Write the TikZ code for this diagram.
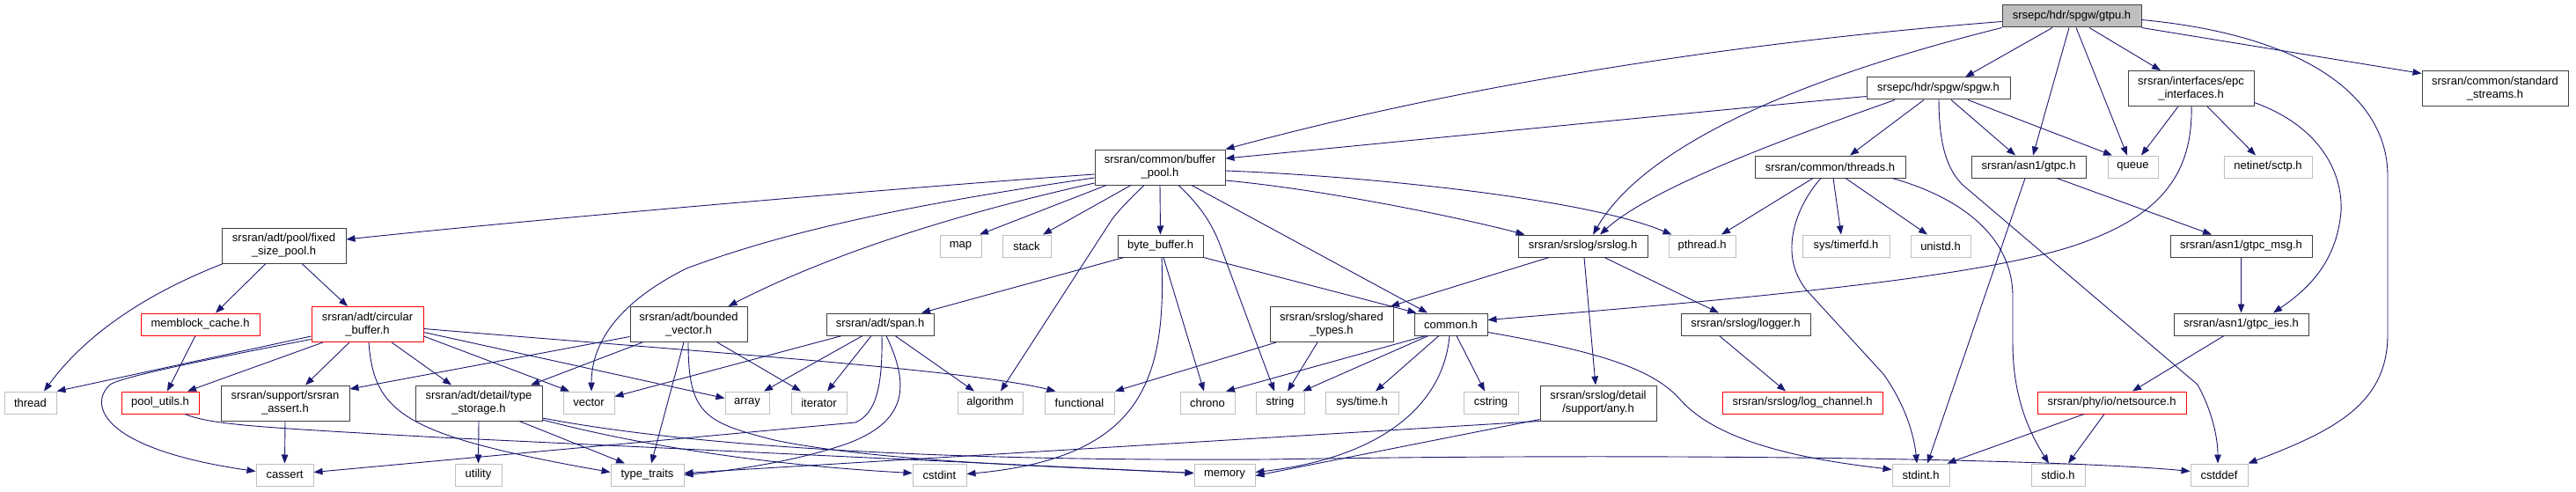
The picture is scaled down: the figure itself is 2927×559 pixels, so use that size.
\documentclass[tikz,border=0pt]{standalone}
\usepackage{fontspec}
\setmainfont{Liberation Sans}
\usetikzlibrary{arrows.meta,calc}
\definecolor{edgec}{HTML}{191970}
\definecolor{extc}{HTML}{BFBFBF}
\definecolor{intc}{HTML}{404040}
\definecolor{mainfill}{HTML}{BFBFBF}
\tikzset{
 base/.style={rectangle, inner sep=0pt, align=center, font=\fontsize{13}{15}\selectfont, text=black, line width=1pt, minimum height=25pt},
 two/.style={minimum height=40pt},
 intn/.style={base, draw=intc, fill=white},
 extn/.style={base, draw=extc, fill=white},
 redn/.style={base, draw=red, fill=white},
 mainn/.style={base, draw=intc, fill=mainfill},
 e/.style={draw=edgec, line width=0.9pt, -{Triangle[length=10pt,width=7.5pt]}}
}
\begin{document}
\begin{tikzpicture}[x=1pt,y=-1pt]
\useasboundingbox[fill=white] (0,0) rectangle (2927,559);
% row 0
\node[mainn, minimum width=158pt] (gtpu) at (2354,18.5) {srsepc/hdr/spgw/gtpu.h};
% row 1
\node[intn, minimum width=163pt] (spgw) at (2202.5,100.5) {srsepc/hdr/spgw/spgw.h};
\node[intn, two, minimum width=143pt] (epc) at (2489.5,100.5) {srsran/interfaces/epc\\\_interfaces.h};
\node[intn, two, minimum width=166pt] (ss) at (2835,100.5) {srsran/common/standard\\\_streams.h};
% row 2
\node[intn, two, minimum width=148pt] (bp) at (1318,190) {srsran/common/buffer\\\_pool.h};
\node[intn, minimum width=171pt] (threads) at (2079.5,189.5) {srsran/common/threads.h};
\node[intn, minimum width=130pt] (gtpc) at (2305,189.5) {srsran/asn1/gtpc.h};
\node[extn, minimum width=57pt] (queue) at (2423.5,189.5) {queue};
\node[extn, minimum width=100pt] (sctp) at (2577,189.5) {netinet/sctp.h};
% row 3
\node[intn, two, minimum width=141pt] (fsp) at (322.5,279) {srsran/adt/pool/fixed\\\_size\_pool.h};
\node[extn, minimum width=47pt] (map) at (1091.5,279.5) {map};
\node[extn, minimum width=55pt] (stack) at (1166.5,279.5) {stack};
\node[intn, minimum width=97pt] (bb) at (1318.5,279.5) {byte\_buffer.h};
\node[intn, minimum width=147pt] (srslog) at (1798.5,279.5) {srsran/srslog/srslog.h};
\node[extn, minimum width=76pt] (pthread) at (1934,279.5) {pthread.h};
\node[extn, minimum width=99pt] (timerfd) at (2097.5,279.5) {sys/timerfd.h};
\node[extn, minimum width=68pt] (unistd) at (2205,279.5) {unistd.h};
\node[intn, minimum width=161pt] (gtpcmsg) at (2546.5,279.5) {srsran/asn1/gtpc\_msg.h};
% row 4
\node[redn, minimum width=135pt] (memblock) at (227.5,368.5) {memblock\_cache.h};
\node[redn, two, minimum width=127pt] (circ) at (417.5,368.5) {srsran/adt/circular\\\_buffer.h};
\node[intn, two, minimum width=133pt] (bv) at (782.5,368.5) {srsran/adt/bounded\\\_vector.h};
\node[intn, minimum width=122pt] (span) at (1000,368.5) {srsran/adt/span.h};
\node[intn, two, minimum width=140pt] (shared) at (1513,368.5) {srsran/srslog/shared\\\_types.h};
\node[intn, minimum width=83pt] (common) at (1648.5,368.5) {common.h};
\node[intn, minimum width=147pt] (logger) at (1983.5,368.5) {srsran/srslog/logger.h};
\node[intn, minimum width=153pt] (ies) at (2546.5,368.5) {srsran/asn1/gtpc\_ies.h};
% row 5
\node[extn, minimum width=59pt] (thread) at (34.5,457.5) {thread};
\node[redn, minimum width=88pt] (poolutils) at (182,457.5) {pool\_utils.h};
\node[intn, two, minimum width=146pt] (assert) at (324,458) {srsran/support/srsran\\\_assert.h};
\node[intn, two, minimum width=144pt] (tstorage) at (544,458) {srsran/adt/detail/type\\\_storage.h};
\node[extn, minimum width=58pt] (vector) at (669,457.5) {vector};
\node[extn, minimum width=50pt] (array) at (849,457.5) {array};
\node[extn, minimum width=63pt] (iterator) at (930.5,457.5) {iterator};
\node[extn, minimum width=74pt] (algorithm) at (1125,457.5) {algorithm};
\node[extn, minimum width=79pt] (functional) at (1226.5,457.5) {functional};
\node[extn, minimum width=62pt] (chrono) at (1372,457.5) {chrono};
\node[extn, minimum width=55pt] (string) at (1454.5,457.5) {string};
\node[extn, minimum width=83pt] (systime) at (1547.5,457.5) {sys/time.h};
\node[extn, minimum width=62pt] (cstring) at (1694,457.5) {cstring};
\node[intn, two, minimum width=132pt] (any) at (1816,458) {srsran/srslog/detail\\/support/any.h};
\node[redn, minimum width=182pt] (logch) at (2048,457.5) {srsran/srslog/log\_channel.h};
\node[redn, minimum width=169pt] (netsrc) at (2399.5,457.5) {srsran/phy/io/netsource.h};
% row 6
\node[extn, minimum width=65pt] (cassert) at (323.5,539.5) {cassert};
\node[extn, minimum width=53pt] (utility) at (543.5,539.5) {utility};
\node[extn, minimum width=83pt] (ttraits) at (735.5,539.5) {type\_traits};
\node[extn, minimum width=61pt] (cstdint) at (1067.5,539.5) {cstdint};
\node[extn, minimum width=69pt] (memory) at (1391.5,539.5) {memory};
\node[extn, minimum width=65pt] (stdint) at (2182.5,539.5) {stdint.h};
\node[extn, minimum width=61pt] (stdio) at (2338.5,539.5) {stdio.h};
\node[extn, minimum width=65pt] (cstddef) at (2521.5,539.5) {cstddef};

% ---- edges from gtpu
\draw[e] ($(gtpu.west)+(0,6)$) .. controls (1950,50) and (1650,100) .. (bp.north east);
\draw[e] (gtpu.south west) .. controls (2000,100) and (1860,180) .. ($(srslog.north)+(11.5,0)$);
\draw[e] ($(gtpu.south)+(-22,0)$) -- ($(spgw.north)+(30.5,0)$);
\draw[e] ($(gtpu.south)+(-3,0)$) -- ($(gtpc.north)+(5,0)$);
\draw[e] ($(gtpu.south)+(5,0)$) -- ($(queue.north)+(-6.5,0)$);
\draw[e] ($(gtpu.south)+(20,0)$) -- ($(epc.north)+(-34.5,0)$);
\draw[e] (gtpu.south east) -- ($(ss.west)+(0,-17)$);
\draw[e] ($(gtpu.east)+(0,4)$) .. controls (2620,40) and (2713,110) .. (2713,200) -- (2713,380) .. controls (2713,460) and (2650,490) .. (cstddef.north east);
% ---- edges from spgw
\draw[e] ($(spgw.west)+(0,9)$) .. controls (1900,130) and (1600,160) .. ($(bp.east)+(0,-10)$);
\draw[e] ($(spgw.south)+(-49.5,0)$) .. controls (2050,150) and (1880,210) .. ($(srslog.north)+(19.5,0)$);
\draw[e] ($(spgw.south)+(-16.5,0)$) -- ($(threads.north)+(22.5,0)$);
\draw[e] ($(spgw.south)+(14.5,0)$) -- ($(gtpc.north)+(-15,0)$);
\draw[e] ($(spgw.south)+(33.5,0)$) -- ($(queue.north)+(-23.5,0)$);
\draw[e] ($(spgw.south)+(0.5,0)$) .. controls (2203,170) and (2215,195) .. (2230,210) -- (2497,437) .. controls (2515,470) and (2520,500) .. ($(cstddef.north)+(-1.5,0)$);
% ---- threads
\draw[e] ($(threads.south)+(-19.5,0)$) -- ($(pthread.north)+(22,0)$);
\draw[e] ($(threads.south)+(3.5,0)$) -- ($(timerfd.north)+(-5.5,0)$);
\draw[e] ($(threads.south)+(17.5,0)$) -- ($(unistd.north)+(-15,0)$);
\draw[e] ($(threads.south)+(-10.5,0)$) .. controls (2040,235) and (2020,290) .. (2053,330) -- (2140,425) .. controls (2165,460) and (2175,495) .. ($(stdint.north)+(-4.5,0)$);
\draw[e] ($(threads.south)+(70.5,0)$) .. controls (2230,225) and (2287,270) .. (2287,337) -- (2287,390) .. controls (2287,450) and (2305,490) .. ($(stdio.north)+(-10.5,0)$);
% ---- epc
\draw[e] ($(epc.south)+(-14.5,0)$) -- ($(queue.north)+(9.5,0)$);
\draw[e] ($(epc.south)+(18.5,0)$) -- ($(sctp.north)+(-14,0)$);
\draw[e] ($(epc.south)+(0.5,0)$) .. controls (2492,210) and (2440,250) .. (2360,278) .. controls (2250,315) and (2000,338) .. ($(common.east)+(0,-5)$);
\draw[e] ($(epc.east)+(0,16)$) .. controls (2640,145) and (2662,200) .. (2660,240) .. controls (2655,300) and (2620,330) .. ($(ies.north)+(36.5,0)$);
% ---- gtpc
\draw[e] ($(gtpc.south)+(32,0)$) -- ($(gtpcmsg.north)+(-33.5,0)$);
\draw[e] ($(gtpc.south)+(-4,0)$) -- ($(stdint.north)+(7.5,0)$);
\draw[e] (gtpcmsg.south) -- (ies.north);
\draw[e] ($(ies.south)+(-19.5,0)$) -- ($(netsrc.north)+(23.5,0)$);
\draw[e] ($(netsrc.south)+(-31.5,0)$) -- ($(stdint.north)+(30,0)$);
\draw[e] ($(netsrc.south)+(-8.5,0)$) -- ($(stdio.north)+(11.5,0)$);
% ---- buffer_pool
\draw[e] ($(bp.west)+(0,8)$) .. controls (1000,215) and (600,250) .. ($(fsp.east)+(0,-7)$);
\draw[e] ($(bp.west)+(0,12)$) .. controls (1050,230) and (900,260) .. (780,305) .. controls (690,350) and (672,400) .. ($(vector.north)+(3,0)$);
\draw[e] ($(bp.west)+(0,18)$) .. controls (1100,240) and (950,285) .. ($(bv.north)+(45,0)$);
\draw[e] ($(bp.south)+(-61,0)$) -- ($(map.north)+(21.5,0)$);
\draw[e] ($(bp.south)+(-33,0)$) -- ($(stack.north)+(18.5,0)$);
\draw[e] ($(bp.south)+(-18,0)$) .. controls (1285,225) and (1270,240) .. (1263,250) -- ($(algorithm.north)+(12,0)$);
\draw[e] (bp.south) -- (bb.north);
\draw[e] ($(bp.south)+(21,0)$) .. controls (1360,230) and (1375,250) .. (1385,275) -- ($(string.north)+(-6.5,0)$);
\draw[e] ($(bp.south)+(36,0)$) -- ($(common.north)+(-26.5,0)$);
\draw[e] ($(bp.east)+(0,15)$) .. controls (1500,215) and (1650,245) .. ($(srslog.north west)+(8,0)$);
\draw[e] ($(bp.east)+(0,4)$) .. controls (1550,200) and (1800,225) .. ($(pthread.north west)+(4,0)$);
% ---- srslog
\draw[e] ($(srslog.south)+(-38.5,0)$) -- ($(shared.north)+(67,0)$);
\draw[e] ($(srslog.south)+(1.5,0)$) -- ($(any.north)+(-3,0)$);
\draw[e] ($(srslog.south)+(24.5,0)$) -- ($(logger.north)+(-30.5,0)$);
\draw[e] ($(logger.south)+(-30,0)$) -- ($(logch.north)+(-19,0)$);
% ---- byte_buffer
\draw[e] ($(bb.south)+(-41.5,0)$) -- ($(span.north)+(47,0)$);
\draw[e] (bb.south east) -- ($(common.north west)+(3,0)$);
\draw[e] ($(bb.south)+(3.5,0)$) -- ($(chrono.north)+(-4,0)$);
\draw[e] ($(bb.south)+(1.5,0)$) .. controls (1325,430) and (1300,520) .. ($(cstdint.east)+(0,-1)$);
% ---- shared types
\draw[e] ($(shared.south)+(-16,0)$) -- ($(string.north)+(8.5,0)$);
\draw[e] ($(shared.south)+(-63,0)$) -- ($(functional.north)+(40.5,0)$);
% ---- common
\draw[e] ($(common.south)+(-28.5,0)$) -- ($(chrono.north)+(21,0)$);
\draw[e] ($(common.south)+(-25.5,0)$) -- ($(string.north)+(25.5,0)$);
\draw[e] ($(common.south)+(-13.5,0)$) -- ($(systime.north)+(15.5,0)$);
\draw[e] ($(common.south)+(6.5,0)$) -- ($(cstring.north)+(-7,0)$);
\draw[e] ($(common.south)+(-1.5,0)$) .. controls (1640,460) and (1570,520) .. ($(memory.east)+(0,-3)$);
\draw[e] ($(common.east)+(0,9)$) .. controls (1820,400) and (1880,420) .. (1910,455) .. controls (1960,510) and (2080,525) .. ($(stdint.west)+(0,-6)$);
% ---- any
\draw[e] (any.south west) -- ($(ttraits.east)+(0,-2)$);
\draw[e] ($(any.south west)+(0,-2)$) -- ($(memory.east)+(0,1)$);
% ---- fixed size pool
\draw[e] ($(fsp.south west)+(2,0)$) .. controls (150,340) and (90,390) .. ($(thread.north)+(15.5,0)$);
\draw[e] ($(fsp.south)+(-20.5,0)$) -- ($(memblock.north)+(17.5,0)$);
\draw[e] ($(fsp.south)+(20.5,0)$) -- ($(circ.north)+(-22.5,0)$);
\draw[e] ($(memblock.south)+(-5.5,0)$) -- ($(poolutils.north)+(8,0)$);
\draw[e] ($(poolutils.south)+(28,0)$) .. controls (240,482) and (280,485) .. (500,497) -- ($(memory.west)+(0,-2)$);
% ---- circular buffer
\draw[e] ($(circ.west)+(0,13.5)$) -- (thread.north east);
\draw[e] ($(circ.west)+(0,17)$) .. controls (200,415) and (135,430) .. (125,437) .. controls (100,460) and (115,510) .. ($(cassert.west)+(0,-4)$);
\draw[e] ($(circ.south)+(-50.5,0)$) -- ($(poolutils.north)+(31,0)$);
\draw[e] ($(circ.south)+(-20.5,0)$) -- ($(assert.north)+(23,0)$);
\draw[e] ($(circ.south)+(27.5,0)$) -- ($(tstorage.north)+(-31,0)$);
\draw[e] ($(circ.south)+(1.5,0)$) .. controls (425,470) and (460,495) .. ($(ttraits.west)+(0,-3)$);
\draw[e] ($(circ.east)+(0,13.5)$) -- ($(vector.north)+(-22,0)$);
\draw[e] ($(circ.east)+(0,9)$) -- ($(array.west)+(0,-5)$);
\draw[e] ($(circ.east)+(0,5)$) .. controls (800,400) and (1100,420) .. ($(functional.north west)+(13,0)$);
\draw[e] (assert.south) -- (cassert.north);
% ---- type storage
\draw[e] (tstorage.south) -- (utility.north);
\draw[e] ($(tstorage.south)+(46,0)$) -- ($(ttraits.north)+(-25.5,0)$);
\draw[e] ($(tstorage.east)+(0,19)$) .. controls (750,512) and (900,530) .. ($(cstdint.west)+(0,-2)$);
\draw[e] ($(tstorage.east)+(0,17)$) .. controls (800,510) and (1100,524) .. (1440,522) .. controls (1900,514) and (2350,522) .. ($(cstddef.west)+(0,-4)$);
% ---- bounded vector
\draw[e] ($(bv.south)+(-52.5,0)$) -- ($(tstorage.north)+(59,0)$);
\draw[e] ($(bv.west)+(0,14)$) -- ($(assert.east)+(0,-16)$);
\draw[e] ($(bv.south)+(-5.5,0)$) -- ($(ttraits.north)+(4.5,0)$);
\draw[e] ($(bv.south)+(32.5,0)$) -- ($(iterator.north)+(-20.5,0)$);
\draw[e] ($(bv.south)+(-0.5,0)$) .. controls (782,470) and (800,480) .. (880,500) .. controls (1000,525) and (1200,530) .. ($(memory.west)+(0,-2)$);
% ---- span
\draw[e] ($(span.south west)+(18,0)$) -- ($(vector.east)+(0,-7)$);
\draw[e] ($(span.south)+(-20,0)$) -- ($(array.north)+(19,0)$);
\draw[e] ($(span.south)+(-10,0)$) -- ($(iterator.north)+(9.5,0)$);
\draw[e] ($(span.south)+(17,0)$) -- ($(algorithm.north)+(-18,0)$);
\draw[e] ($(span.south)+(2,0)$) .. controls (1003,440) and (995,470) .. (972,480) -- ($(cassert.east)+(0,-3)$);
\draw[e] ($(span.south)+(7,0)$) .. controls (1035,440) and (1030,480) .. (960,505) .. controls (900,525) and (830,535) .. (ttraits.east);
\end{tikzpicture}
\end{document}
